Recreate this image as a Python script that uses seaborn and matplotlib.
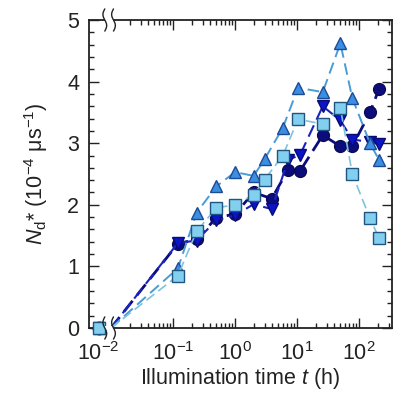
import numpy as np
import matplotlib
matplotlib.use('Agg')
import matplotlib.pyplot as plt
import matplotlib.transforms as mtransforms
from matplotlib.ticker import MultipleLocator, FixedLocator, NullFormatter
import seaborn as sns

# ---------------------------------------------------
# data
# ---------------------------------------------------
t_dark = [0.12, 0.24, 0.5, 1.0, 2.0, 3.9, 7.2, 11.2, 26, 50, 78, 150, 210]
t_light = [0.12, 0.24, 0.5, 1.0, 2.0, 3.0, 5.9, 10.4, 26, 50, 78, 150, 210]

nd_circle = [1.37, 1.44, 1.79, 1.85, 2.20, 2.10, 2.57, 2.55, 3.13, 2.95, 2.95, 3.50, 3.88]
nd_tri_down = [1.38, 1.42, 1.75, 1.83, 2.01, 1.93, 2.73, 2.81, 3.60, 3.37, 3.06, 3.02, 2.98]
nd_tri_up = [0.97, 1.87, 2.30, 2.53, 2.47, 2.74, 3.25, 3.90, 3.83, 4.62, 3.73, 3.00, 2.73]
nd_square = [0.85, 1.57, 1.95, 2.00, 2.16, 2.41, 2.80, 3.39, 3.31, 3.57, 2.50, 1.78, 1.46]

t_start = 0.01          # lines start here (value 0)
t_zero_marker = 10 ** -2.2   # t = 0 point drawn left of the axis break

xtick_pos = [t_zero_marker, 0.1, 1, 10, 100]
xtick_labels = ['$10^{-2}$', '$10^{-1}$', '$10^{0}$', '$10^{1}$', '$10^{2}$']

sns.set_style('ticks')
plt.rcParams['font.family'] = ['Liberation Sans', 'DejaVu Sans']
plt.rcParams['mathtext.fontset'] = 'custom'
plt.rcParams['mathtext.rm'] = 'Liberation Sans'
plt.rcParams['mathtext.it'] = 'Liberation Sans:italic'

fig = plt.figure(figsize=(3.98, 3.93), dpi=100)
ax = fig.add_axes([0.2236, 0.1654, 0.7614, 0.7837])
ax.set_xscale('log')

# series: (times, values, marker, face, edge, line colour, line width, dash)
series = [
    (t_dark, nd_circle, 'o', '#0c0c7c', '#0a0a55', '#0c0c7c', 2.0, (0, (5, 2.5))),
    (t_dark, nd_tri_down, 'v', '#0a14c8', '#0a0a70', '#1a22c0', 1.5, (0, (6, 3))),
    (t_light, nd_tri_up, '^', '#3b8fe2', '#1d4a95', '#4a9bd6', 1.4, (0, (6, 3))),
    (t_light, nd_square, 's', '#82cff0', '#1f557f', '#7cc4de', 1.2, (0, (6, 3))),
]

for times, vals, mk, fc, ec, lc, lw, ls in series:
    xs = [t_start] + list(times)
    ys = [0] + list(vals)
    sns.lineplot(x=xs, y=ys, ax=ax, color=lc, linewidth=lw, linestyle=ls,
                 marker=mk, markersize=9 if mk != 'o' else 8.5,
                 markerfacecolor=fc, markeredgecolor=ec, markeredgewidth=1.0,
                 markevery=list(range(1, len(xs))), sort=False, legend=False,
                 zorder=3)

# t = 0 point (all series overlap, square on top)
for times, vals, mk, fc, ec, lc, lw, ls in series:
    ax.plot([t_zero_marker], [0], marker=mk, markersize=9, linestyle='none',
            markerfacecolor=fc, markeredgecolor=ec, markeredgewidth=1.0,
            clip_on=False, zorder=7)

ax.set_xlim(10 ** -2.355, 10 ** 2.532)
ax.set_ylim(0, 5)

ax.set_xticks(xtick_pos)
ax.set_xticklabels(xtick_labels)
minor = [k * 10.0 ** e for e in range(-2, 3) for k in range(2, 10)]
ax.xaxis.set_minor_locator(FixedLocator([m for m in minor if m < 340]))
ax.xaxis.set_minor_formatter(NullFormatter())
ax.yaxis.set_major_locator(MultipleLocator(1))
ax.yaxis.set_minor_locator(MultipleLocator(0.2))

ax.tick_params(which='both', direction='in', top=True, right=True,
               labelsize=15.5, width=1.0, color='#222222', labelcolor='#222222')
ax.tick_params(which='major', length=7, pad=7)
ax.tick_params(which='minor', length=3.5)
ax.tick_params(axis='x', which='major', pad=10)
tk = ax.xaxis.get_major_ticks()[0]
tk.tick1line.set_visible(False)
tk.tick2line.set_visible(False)

for s in ax.spines.values():
    s.set_linewidth(1.3)
    s.set_color('#222222')

# axis break marks on bottom and top spine
trans = mtransforms.blended_transform_factory(ax.transData, ax.transAxes)
s_par = np.linspace(-1, 1, 40)
for y_sp in [0, 1]:
    x_a = 10 ** -2.10
    x_b = 10 ** -1.96
    ax.fill_between([x_a, x_b], [y_sp - 0.006] * 2, [y_sp + 0.006] * 2,
                    transform=trans, color='white', zorder=8, clip_on=False, lw=0)
    for lx in [-2.10, -1.96]:
        xx = 10 ** (lx - 0.03 * np.sin(np.pi * s_par))
        yy = y_sp + 0.036 * s_par
        ax.plot(xx, yy, transform=trans, color='#222222', lw=1.0,
                clip_on=False, zorder=9)

ax.set_xlabel('Illumination time $t$ (h)', fontsize=15.5, labelpad=1, color='#222222')
ax.set_ylabel(r'$N_{\mathrm{d}}$* (10$^{-4}$ μs$^{-1}$)', fontsize=15.5, labelpad=12,
              color='#222222')

fig.savefig('out.png', dpi=100)
